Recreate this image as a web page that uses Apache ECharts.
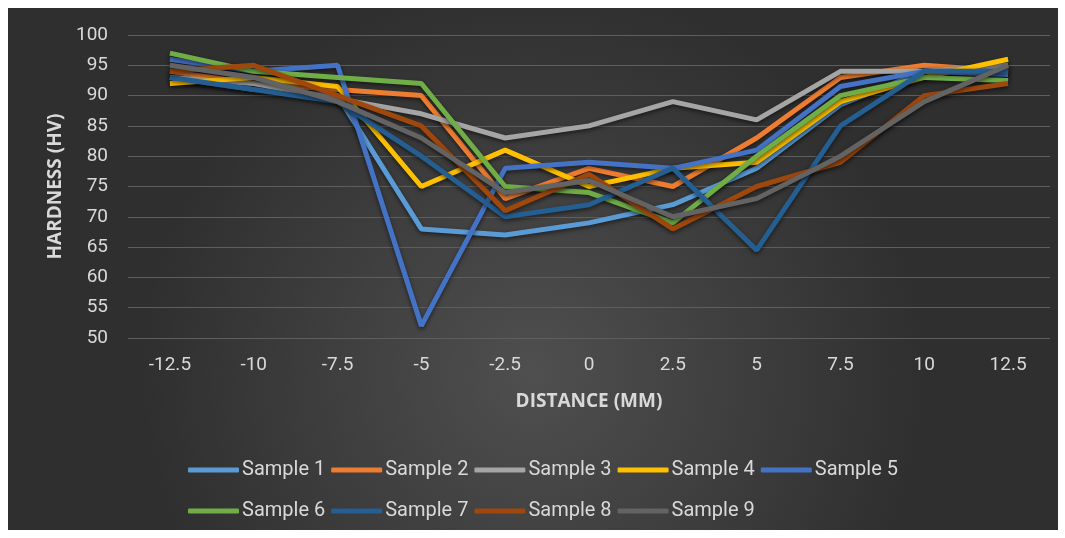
<!DOCTYPE html>
<html>
<head>
<meta charset="utf-8">
<script src="https://cdn.jsdelivr.net/npm/echarts@6/dist/echarts.min.js"></script>
<style>
  html, body { margin: 0; padding: 0; background: #fff; }
  #chart { width: 1065px; height: 538px; }
</style>
</head>
<body>
<div id="chart"></div>
<script>
// distance from weld centre (mm)
const distances = ['-12.5', '-10', '-7.5', '-5', '-2.5', '0', '2.5', '5', '7.5', '10', '12.5'];
const yTicks = [50, 55, 60, 65, 70, 75, 80, 85, 90, 95, 100];

const sample1 = [93, 91, 90, 68, 67, 69, 72, 78, 88.5, 94, 94];
const sample2 = [94, 92, 91, 90, 73, 78, 75, 83, 93, 95, 94];
const sample3 = [93, 92, 89.5, 87, 83, 85, 89, 86, 94, 94, 95];
const sample4 = [92, 93, 91.5, 75, 81, 75, 78, 79, 89, 93, 96];
const sample5 = [96, 94, 95, 52, 78, 79, 78, 81, 91.5, 94, 93.5];
const sample6 = [97, 94, 93, 92, 75, 74, 69, 80, 90, 93, 92.5];
const sample7 = [93, 91, 89, 80, 70, 72, 78, 64.5, 85, 94, 94];
const sample8 = [94, 95, 90, 85, 71, 77, 68, 75, 79, 90, 92];
const sample9 = [95, 93, 89, 83, 74, 76, 70, 73, 80, 89, 95];

const names = ['Sample 1', 'Sample 2', 'Sample 3', 'Sample 4', 'Sample 5',
               'Sample 6', 'Sample 7', 'Sample 8', 'Sample 9'];
const values = [sample1, sample2, sample3, sample4, sample5, sample6, sample7, sample8, sample9];
const colors = ['#5B9BD5', '#ED7D31', '#A5A5A5', '#FFC000', '#4472C4',
                '#70AD47', '#255E91', '#9E480E', '#636363'];

var dom = document.getElementById('chart');
var myChart = echarts.init(dom, null, { renderer: 'canvas' });

const labelFont = {
    fontFamily: 'Roboto',
    fontSize: 19,
    color: '#d9d9d9'
};

const titleFont = {
    fontFamily: 'Open Sans',
    fontSize: 19,
    fontWeight: 'bold',
    color: '#d9d9d9'
};

const legendBase = {
    itemWidth: 51,
    itemHeight: 5,
    itemGap: 6,
    icon: 'roundRect',
    textStyle: { fontFamily: 'Roboto', fontSize: 20, color: '#d9d9d9', padding: [0, 0, 0, -2] }
};

const option = {
    backgroundColor: '#ffffff',
    color: colors,
    graphic: [{
        type: 'rect',
        z: -10,
        silent: true,
        shape: { x: 8, y: 8, width: 1050, height: 522 },
        style: {
            fill: new echarts.graphic.RadialGradient(0.5, 0.7, 0.75, [
                { offset: 0, color: '#4f4f4f' },
                { offset: 1, color: '#2f2f2f' }
            ])
        }
    }],
    legend: [
        Object.assign({ data: names.slice(0, 5), left: 183, top: 455 }, legendBase),
        Object.assign({ data: names.slice(5), left: 183, top: 496 }, legendBase)
    ],
    grid: { left: 128, right: 15, top: 35, bottom: 200 },
    xAxis: {
        type: 'category',
        data: distances,
        boundaryGap: true,
        name: 'DISTANCE (MM)',
        nameLocation: 'middle',
        nameGap: 54,
        nameTextStyle: titleFont,
        axisLine: { show: false },
        axisTick: { show: false },
        axisLabel: Object.assign({ margin: 18 }, labelFont)
    },
    yAxis: {
        type: 'value',
        min: yTicks[0],
        max: yTicks[yTicks.length - 1],
        interval: 5,
        name: 'HARDNESS (HV)',
        nameLocation: 'middle',
        nameRotate: 90,
        nameGap: 60,
        nameTextStyle: titleFont,
        axisLine: { show: false },
        axisTick: { show: false },
        axisLabel: Object.assign({ margin: 20 }, labelFont),
        splitLine: { lineStyle: { color: '#5e5e5e', width: 1 } }
    },
    series: names.map((n, i) => ({
        name: n,
        type: 'line',
        data: values[i],
        symbol: 'none',
        lineStyle: {
            width: 5,
            color: colors[i],
            shadowColor: 'rgba(0,0,0,0.55)',
            shadowBlur: 4,
            shadowOffsetY: 2
        },
        itemStyle: { color: colors[i] }
    }))
};

if (option && typeof option === 'object') {
    myChart.setOption(option);
}

window.addEventListener('resize', myChart.resize);
</script>
</body>
</html>
